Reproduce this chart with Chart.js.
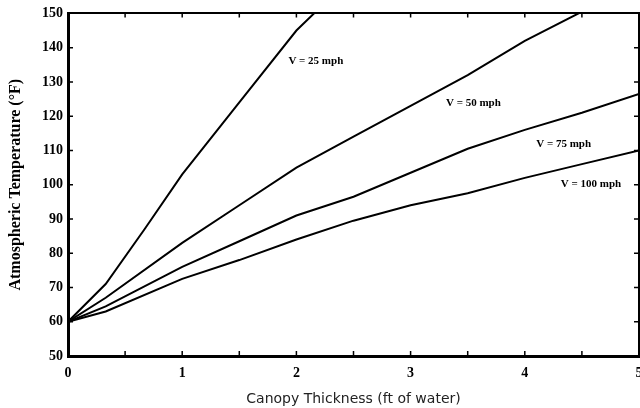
<!DOCTYPE HTML>
<html>
<head>
  <script src="https://cdn.jsdelivr.net/npm/chart.js"></script>
  <style>
    html, body { margin: 0; padding: 0; overflow: hidden; background: #fff; }
    #wrap { position: absolute; left: 0; top: 0; }
  </style>
</head>
<body>
  <div id="wrap"><canvas id="myChart" width="660" height="408"></canvas></div>
  <script>
    // Curves: canopy thickness (ft of water) vs temperature (F)
    const v25X = [0, 0.33, 0.67, 1, 1.5, 2, 2.17];
    const v25Y = [60, 71, 87, 103, 124, 145, 150.5];

    const v50X = [0, 0.33, 1, 1.5, 2, 2.5, 3, 3.5, 4, 4.5];
    const v50Y = [60, 67, 83, 94, 105, 114, 123, 132, 142, 150.5];

    const v75X = [0, 0.33, 1, 1.5, 2, 2.5, 3, 3.5, 4, 4.5, 5];
    const v75Y = [60, 64.5, 76, 83.5, 91, 96.5, 103.5, 110.5, 116, 121, 126.5];

    const v100X = [0, 0.33, 1, 1.5, 2, 2.5, 3, 3.5, 4, 4.5, 5];
    const v100Y = [60, 63, 72.5, 78, 84, 89.5, 94, 97.5, 102, 106, 110];

    const seriesNames = ["V = 25 mph", "V = 50 mph", "V = 75 mph", "V = 100 mph"];
    // where each curve's name sits, in data units
    const nameX = [2.17, 3.55, 4.34, 4.58];
    const nameY = [136, 123.8, 111.9, 100.3];

    const xTickMarks = [0.5, 1, 1.5, 2, 2.5, 3, 3.5, 4, 4.5];
    const yTickMarks = [60, 70, 80, 90, 100, 110, 120, 130, 140];

    function toPoints(xs, ys) {
      return xs.map((x, i) => ({x: x, y: ys[i]}));
    }

    // tick marks drawn inward on all four sides, plus the curve names
    const innerTicks = {
      id: 'innerTicks',
      afterDatasetsDraw(chart) {
        const ctx = chart.ctx;
        const {left, right, top, bottom} = chart.chartArea;
        const x = chart.scales.x, y = chart.scales.y;
        ctx.save();
        ctx.strokeStyle = '#000';
        ctx.lineWidth = 1.5;
        ctx.beginPath();
        xTickMarks.forEach(v => {
          const px = x.getPixelForValue(v);
          ctx.moveTo(px, bottom); ctx.lineTo(px, bottom - 5);
          ctx.moveTo(px, top); ctx.lineTo(px, top + 4);
        });
        yTickMarks.forEach(v => {
          const py = y.getPixelForValue(v);
          ctx.moveTo(left, py); ctx.lineTo(left + 5, py);
          ctx.moveTo(right, py); ctx.lineTo(right - 5, py);
        });
        ctx.stroke();

        ctx.fillStyle = '#000';
        ctx.font = 'bold 11px "Liberation Serif"';
        ctx.textAlign = 'center';
        ctx.textBaseline = 'middle';
        seriesNames.forEach((name, i) => {
          ctx.fillText(name, x.getPixelForValue(nameX[i]), y.getPixelForValue(nameY[i]));
        });
        ctx.restore();
      }
    };

    const tickFont = {family: '"Liberation Serif"', size: 14, weight: 'bold'};
    const lineStyle = {borderColor: '#000', borderWidth: 2, pointRadius: 0, tension: 0, fill: false};

    const ctx = document.getElementById('myChart').getContext('2d');
    new Chart(ctx, {
      type: 'line',
      data: {
        datasets: [
          Object.assign({label: seriesNames[0], data: toPoints(v25X, v25Y)}, lineStyle),
          Object.assign({label: seriesNames[1], data: toPoints(v50X, v50Y)}, lineStyle),
          Object.assign({label: seriesNames[2], data: toPoints(v75X, v75Y)}, lineStyle),
          Object.assign({label: seriesNames[3], data: toPoints(v100X, v100Y)}, lineStyle)
        ]
      },
      options: {
        responsive: false,
        animation: false,
        devicePixelRatio: 1,
        layout: {padding: {left: 0, right: 21, top: 12, bottom: 0}},
        plugins: {legend: {display: false}, tooltip: {enabled: false}},
        scales: {
          x: {
            type: 'linear', position: 'bottom', min: 0, max: 5,
            ticks: {stepSize: 1, color: '#000', font: tickFont, padding: 9, maxRotation: 0},
            grid: {display: false, drawTicks: false},
            border: {display: true, color: '#000', width: 3},
            title: {
              display: true, text: 'Canopy Thickness (ft of water)', color: '#222',
              font: {family: '"DejaVu Sans"', size: 14}, padding: {top: 0, bottom: 0}
            },
            afterFit(scale) { scale.height = 52; }
          },
          x2: {
            type: 'linear', position: 'top', min: 0, max: 5,
            ticks: {display: false},
            grid: {display: false, drawTicks: false},
            border: {display: true, color: '#000', width: 2},
            afterFit(scale) { scale.height = 0; }
          },
          y: {
            min: 50, max: 150,
            ticks: {stepSize: 10, color: '#000', font: tickFont, padding: 5},
            grid: {display: false, drawTicks: false},
            border: {display: true, color: '#000', width: 3},
            title: {
              display: true, text: 'Atmospheric Temperature (°F)', color: '#000',
              font: {family: '"Liberation Serif"', size: 16, weight: 'bold'}, padding: {top: 6, bottom: 0}
            },
            afterFit(scale) { scale.width = 68; }
          },
          y2: {
            position: 'right', min: 50, max: 150,
            ticks: {display: false},
            grid: {display: false, drawTicks: false},
            border: {display: true, color: '#000', width: 2},
            afterFit(scale) { scale.width = 0; }
          }
        }
      },
      plugins: [innerTicks]
    });
  </script>
</body>
</html>
